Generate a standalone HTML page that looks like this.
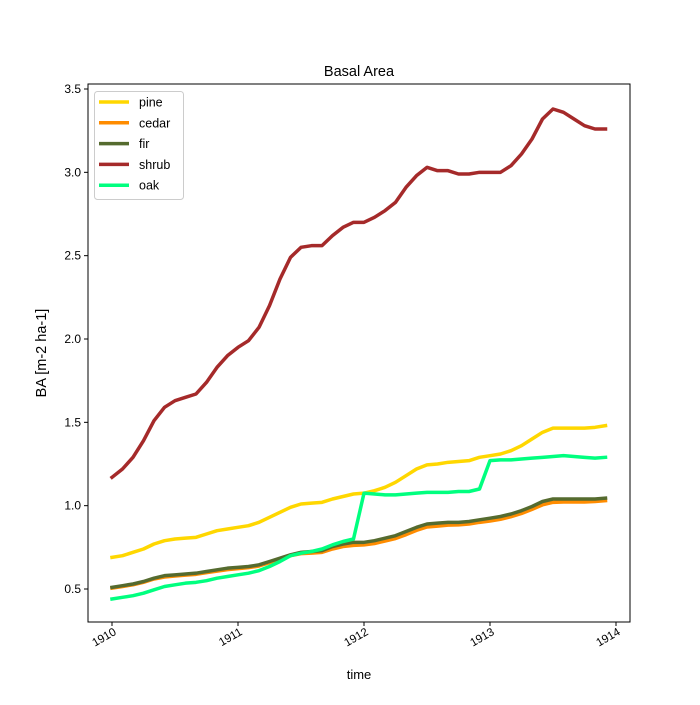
<!DOCTYPE html>
<html><head><meta charset="utf-8"><style>
body{margin:0;background:#fff;}
svg text{font-family:"Liberation Sans","DejaVu Sans",sans-serif;fill:#000;}
</style></head><body>
<svg id="chart" width="700" height="700">
<rect width="700" height="700" fill="#fff"/>
<g id="plot"></g>
</svg>
<script>
const years=[1910,1911,1912,1913,1914];
const yTicks=[0.5,1.0,1.5,2.0,2.5,3.0,3.5];
const seriesNames=["pine","cedar","fir","shrub","oak"];
const seriesColors=["#ffd700","#ff8c00","#556b2f","#a52a2a","#00ff7f"];
const pine=[0.69,0.70,0.72,0.74,0.77,0.79,0.80,0.805,0.81,0.83,0.85,0.86,0.87,0.88,0.90,0.93,0.96,0.99,1.01,1.015,1.02,1.04,1.055,1.07,1.075,1.09,1.11,1.14,1.18,1.22,1.245,1.25,1.26,1.265,1.27,1.29,1.30,1.31,1.33,1.36,1.40,1.44,1.465,1.465,1.465,1.465,1.47,1.48];
const fir=[0.51,0.52,0.53,0.545,0.565,0.58,0.585,0.59,0.595,0.605,0.615,0.625,0.63,0.635,0.645,0.665,0.685,0.705,0.72,0.725,0.73,0.755,0.77,0.78,0.78,0.79,0.805,0.82,0.845,0.87,0.89,0.895,0.90,0.90,0.905,0.915,0.925,0.935,0.95,0.97,0.995,1.025,1.04,1.04,1.04,1.04,1.04,1.045];
const cedar=[0.505,0.515,0.525,0.54,0.56,0.572,0.578,0.583,0.588,0.598,0.607,0.616,0.622,0.628,0.638,0.658,0.68,0.70,0.712,0.715,0.72,0.74,0.755,0.762,0.765,0.773,0.788,0.803,0.826,0.852,0.872,0.877,0.883,0.885,0.89,0.9,0.908,0.918,0.934,0.953,0.978,1.005,1.02,1.022,1.022,1.022,1.025,1.03];
const shrub=[1.17,1.22,1.29,1.39,1.51,1.59,1.63,1.65,1.67,1.74,1.83,1.90,1.95,1.99,2.07,2.20,2.36,2.49,2.55,2.56,2.56,2.62,2.67,2.70,2.70,2.73,2.77,2.82,2.91,2.98,3.03,3.01,3.01,2.99,2.99,3.00,3.00,3.00,3.04,3.11,3.20,3.32,3.38,3.36,3.32,3.28,3.26,3.26];
const oak=[0.44,0.45,0.46,0.475,0.495,0.515,0.525,0.535,0.54,0.55,0.565,0.575,0.585,0.595,0.61,0.635,0.665,0.70,0.715,0.725,0.74,0.765,0.785,0.80,1.075,1.07,1.065,1.065,1.07,1.075,1.08,1.08,1.08,1.085,1.085,1.10,1.27,1.275,1.275,1.28,1.285,1.29,1.295,1.30,1.295,1.29,1.285,1.29];
const seriesData=[pine,cedar,fir,shrub,oak];

const NS="http://www.w3.org/2000/svg";
const L=88,R=630,T=84,B=622;
function xs(year){return 112+(year-1910)*126;}
function ys(v){return 589-(v-0.5)*(500/3);}
const plot=document.getElementById('plot');
function mk(tag,attrs,parent){const e=document.createElementNS(NS,tag);for(const k in attrs)e.setAttribute(k,attrs[k]);(parent||plot).appendChild(e);return e;}

seriesData.forEach((arr,si)=>{
  const pts=arr.map((v,i)=>xs(1910+i/12).toFixed(2)+","+ys(v).toFixed(2)).join(" ");
  const pl=mk('polyline',{points:pts,fill:'none',stroke:seriesColors[si],'stroke-width':3.5,'stroke-linejoin':'round','stroke-linecap':'square'});
  
  
});

const fr=mk('rect',{x:L,y:T,width:R-L,height:B-T,fill:'none',stroke:'#000','stroke-width':1});



yTicks.forEach(v=>{
  const y=ys(v);
  mk('line',{x1:L-4,x2:L,y1:y,y2:y,stroke:'#000'});
  const t=mk('text',{x:L-7,y:y+4,'text-anchor':'end','font-size':12});
  t.textContent=v.toFixed(1);
  
  
});
years.forEach(yr=>{
  const x=xs(yr);
  mk('line',{x1:x,x2:x,y1:B,y2:B+4,stroke:'#000'});
  const t=mk('text',{x:x+5,y:B+12,'text-anchor':'end','font-size':11.5,transform:`rotate(-30 ${x+5} ${B+12})`});
  t.textContent=yr;
  
  
});

let t=mk('text',{x:359,y:76,'text-anchor':'middle','font-size':14.5});
t.textContent='Basal Area';


t=mk('text',{x:359,y:679,'text-anchor':'middle','font-size':13});
t.textContent='time';


t=mk('text',{x:46,y:353,'text-anchor':'middle','font-size':14.5,transform:'rotate(-90 46 353)'});
t.textContent='BA [m-2 ha-1]';



const lg=mk('g',{});


mk('rect',{x:94.5,y:91.5,width:89,height:108,rx:3,fill:'#fff','fill-opacity':0.8,stroke:'#ccc'},lg);
seriesNames.forEach((n,i)=>{
  const y=102+i*20.8;
  const g=mk('g',{},lg);
  
  
  mk('line',{x1:99,x2:129,y1:y,y2:y,stroke:seriesColors[i],'stroke-width':3.5},g);
  const tx=mk('text',{x:139,y:y+4.5,'font-size':12.5},g);
  tx.textContent=n;
});
</script>
</body></html>
